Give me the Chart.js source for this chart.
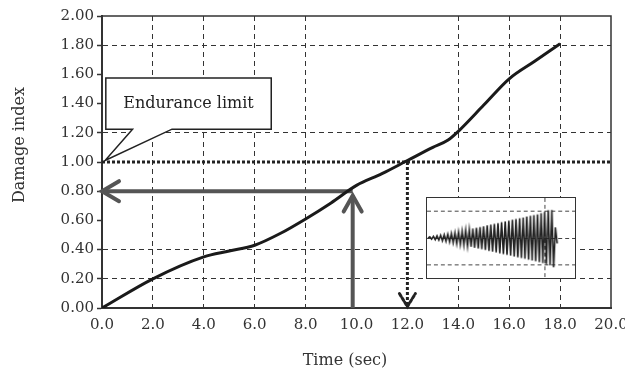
<!DOCTYPE html>
<html><head><meta charset="utf-8">
<script src="https://cdn.jsdelivr.net/npm/chart.js@4/dist/chart.umd.min.js"></script>
<style>
html,body{margin:0;padding:0;background:#fff;}
#wrap{position:relative;width:625px;height:377px;}
#main{position:absolute;left:0;top:0;}
#inset{position:absolute;left:426px;top:197px;border:1px solid #333;background:#fff;}
</style></head><body>
<div id="wrap">
<canvas id="main" width="625" height="377"></canvas>
<canvas id="inset" width="150" height="82"></canvas>
</div>
<script>
// curva do índice de dano
const tempo=[0,2,4,5,6,7,8,9,10,11,12,13,13.6,14,15,16,17,18];
const dano=[0,0.20,0.35,0.39,0.43,0.51,0.61,0.72,0.84,0.92,1.01,1.10,1.15,1.21,1.39,1.57,1.69,1.81];
// limite de resistência e setas
const limiteX=[0,20], limiteY=[1.0,1.0];
const setaHX=[9.85,0], setaHY=[0.80,0.80];
const setaVX=[9.85,9.85], setaVY=[0,0.77];
const setaPX=[12,12], setaPY=[1.0,0.01];
// eixos
const ticksX=[0,2,4,6,8,10,12,14,16,18,20];
const ticksY=[0,0.2,0.4,0.6,0.8,1.0,1.2,1.4,1.6,1.8,2.0];
const gradeX=[2,4,6,8,14,16,18];
const gradeY=[0.2,0.4,1.2,1.8];
// sinal do detalhe (picos)
const sinal=[0,0.04,-0.04,0.06,-0.06,0.08,-0.08,0.10,-0.10,0.12,-0.12,0.14,-0.15,0.17,-0.18,0.20,-0.21,0.23,-0.24,0.26,-0.27,0.29,-0.30,0.32,-0.33,0.35,-0.36,0.38,-0.39,0.41,-0.42,0.44,-0.45,0.47,-0.48,0.50,-0.51,0.53,-0.54,0.56,-0.57,0.59,-0.60,0.62,-0.63,0.65,-0.66,0.68,-0.69,0.71,-0.72,0.74,-0.75,0.77,-0.78,0.80,-0.81,0.83,-0.84,0.86,-0.87,0.89,-0.90,0.93,-0.94,0.98,-0.98,1.04,-1.02,1.05,-1.10,0.40,-0.20];
const insetGradeX=[65.4], insetGradeY=[-1,0,1];

const pares=(xs,ys)=>xs.map((v,i)=>({x:v,y:ys[i]}));
const perto=(v,lista)=>lista.some(g=>Math.abs(g-v)<1e-6);
const FONTE='"DejaVu Serif", serif';

// estilo das pontas de seta, por dataset
const pontas={
  2:{dx:17,dy:10,dir:'h',cor:'#555',larg:4,traco:[]},
  3:{dx:9,dy:16,dir:'v',cor:'#555',larg:4,traco:[]},
  4:{dx:8,dy:-13,dir:'v',cor:'#222',larg:3,traco:[3,2]},
};
const baloao={x0:0.15,x1:6.65,yTop:1.575,yBot:1.225,b1:1.2,b2:2.75,px:0.12,py:1.01,texto:'Endurance limit'};

const desenhos={
  id:'desenhos',
  afterDatasetsDraw(chart){
    const {ctx,chartArea:a,scales:{x,y}}=chart;
    ctx.save();
    ctx.strokeStyle='#333';ctx.lineWidth=1.5;
    ctx.beginPath();ctx.moveTo(a.left,a.top);ctx.lineTo(a.right,a.top);ctx.lineTo(a.right,a.bottom);ctx.stroke();
    // pontas das setas
    Object.keys(pontas).forEach(k=>{
      const p=pontas[k], pts=chart.getDatasetMeta(+k).data, t=pts[pts.length-1];
      ctx.strokeStyle=p.cor;ctx.lineWidth=p.larg;ctx.setLineDash(p.traco);ctx.lineCap='round';
      ctx.beginPath();
      if(p.dir==='h'){ctx.moveTo(t.x+p.dx,t.y-p.dy);ctx.lineTo(t.x,t.y);ctx.lineTo(t.x+p.dx,t.y+p.dy);}
      else{ctx.moveTo(t.x-p.dx,t.y+p.dy);ctx.lineTo(t.x,t.y);ctx.lineTo(t.x+p.dx,t.y+p.dy);}
      ctx.stroke();
    });
    ctx.setLineDash([]);ctx.lineCap='butt';
    // balão "Endurance limit"
    const b=baloao;
    const X0=x.getPixelForValue(b.x0),X1=x.getPixelForValue(b.x1),YT=y.getPixelForValue(b.yTop),YB=y.getPixelForValue(b.yBot);
    ctx.beginPath();
    ctx.moveTo(X0,YT);ctx.lineTo(X1,YT);ctx.lineTo(X1,YB);
    ctx.lineTo(x.getPixelForValue(b.b2),YB);
    ctx.lineTo(x.getPixelForValue(b.px),y.getPixelForValue(b.py));
    ctx.lineTo(x.getPixelForValue(b.b1),YB);
    ctx.lineTo(X0,YB);ctx.closePath();
    ctx.fillStyle='#fff';ctx.fill();
    ctx.strokeStyle='#222';ctx.lineWidth=1.5;ctx.stroke();
    ctx.fillStyle='#222';ctx.font='16px '+FONTE;ctx.textAlign='center';ctx.textBaseline='middle';
    ctx.fillText(b.texto,(X0+X1)/2,(YT+YB)/2);
    // títulos dos eixos
    ctx.fillStyle='#333';
    ctx.fillText('Time (sec)',345,361);
    ctx.translate(20,145);ctx.rotate(-Math.PI/2);
    ctx.fillText('Damage index',0,0);
    ctx.restore();
  }
};

const linha=(xs,ys,cor,larg,traco)=>({data:pares(xs,ys),borderColor:cor,borderWidth:larg,borderDash:traco,pointRadius:0,tension:0,fill:false,clip:false});

new Chart(document.getElementById('main'),{
  type:'line',
  data:{datasets:[
    {data:pares(tempo,dano),borderColor:'#1a1a1a',borderWidth:3,pointRadius:0,cubicInterpolationMode:'monotone',fill:false},
    linha(limiteX,limiteY,'#222',3,[3,2]),
    linha(setaHX,setaHY,'#555',4,[]),
    linha(setaVX,setaVY,'#555',4,[]),
    linha(setaPX,setaPY,'#222',3,[3,2]),
  ]},
  options:{
    responsive:false,animation:false,
    layout:{padding:{left:0,right:14,top:16,bottom:0}},
    plugins:{legend:{display:false},tooltip:{enabled:false}},
    scales:{
      x:{type:'linear',min:0,max:20,
        afterBuildTicks:s=>{s.ticks=ticksX.map(v=>({value:v}));},
        afterFit:s=>{s.height=69;s.paddingLeft=0;s.paddingRight=0;},
        ticks:{callback:v=>v.toFixed(1),color:'#333',font:{family:FONTE,size:15},padding:8,maxRotation:0,autoSkip:false},
        grid:{drawTicks:false,lineWidth:1,color:c=>perto(c.tick.value,gradeX)?'#333':'rgba(0,0,0,0)'},
        border:{display:true,color:'#333',width:2,dash:[5,4]}},
      y:{min:0,max:2,
        afterBuildTicks:s=>{s.ticks=ticksY.map(v=>({value:v}));},
        afterFit:s=>{s.width=102;s.paddingTop=0;s.paddingBottom=0;},
        ticks:{callback:v=>v.toFixed(2),color:'#333',font:{family:FONTE,size:15},padding:3,autoSkip:false},
        grid:{tickLength:5,tickColor:'#333',tickWidth:1.5,lineWidth:1,color:c=>perto(c.tick.value,gradeY)?'#333':'rgba(0,0,0,0)'},
        border:{display:true,color:'#333',width:2,dash:[5,4]}}
    }
  },
  plugins:[desenhos]
});

new Chart(document.getElementById('inset'),{
  type:'line',
  data:{datasets:[{data:sinal.map((v,i)=>({x:i,y:v})),borderColor:'#222',borderWidth:1.6,pointRadius:0,tension:0,fill:false}]},
  options:{
    responsive:false,animation:false,
    layout:{padding:0},
    plugins:{legend:{display:false},tooltip:{enabled:false}},
    scales:{
      x:{type:'linear',min:-0.55,max:81.9,
        afterBuildTicks:s=>{s.ticks=insetGradeX.map(v=>({value:v}));},
        afterFit:s=>{s.height=0;s.paddingLeft=0;s.paddingRight=0;},
        ticks:{display:false},grid:{drawTicks:false,color:'#444'},border:{display:false,dash:[4,3]}},
      y:{min:-1.5,max:1.5,
        afterBuildTicks:s=>{s.ticks=insetGradeY.map(v=>({value:v}));},
        afterFit:s=>{s.width=0;s.paddingTop=0;s.paddingBottom=0;},
        ticks:{display:false},grid:{drawTicks:false,color:'#444'},border:{display:false,dash:[4,3]}}
    }
  }
});
</script>
</body></html>
